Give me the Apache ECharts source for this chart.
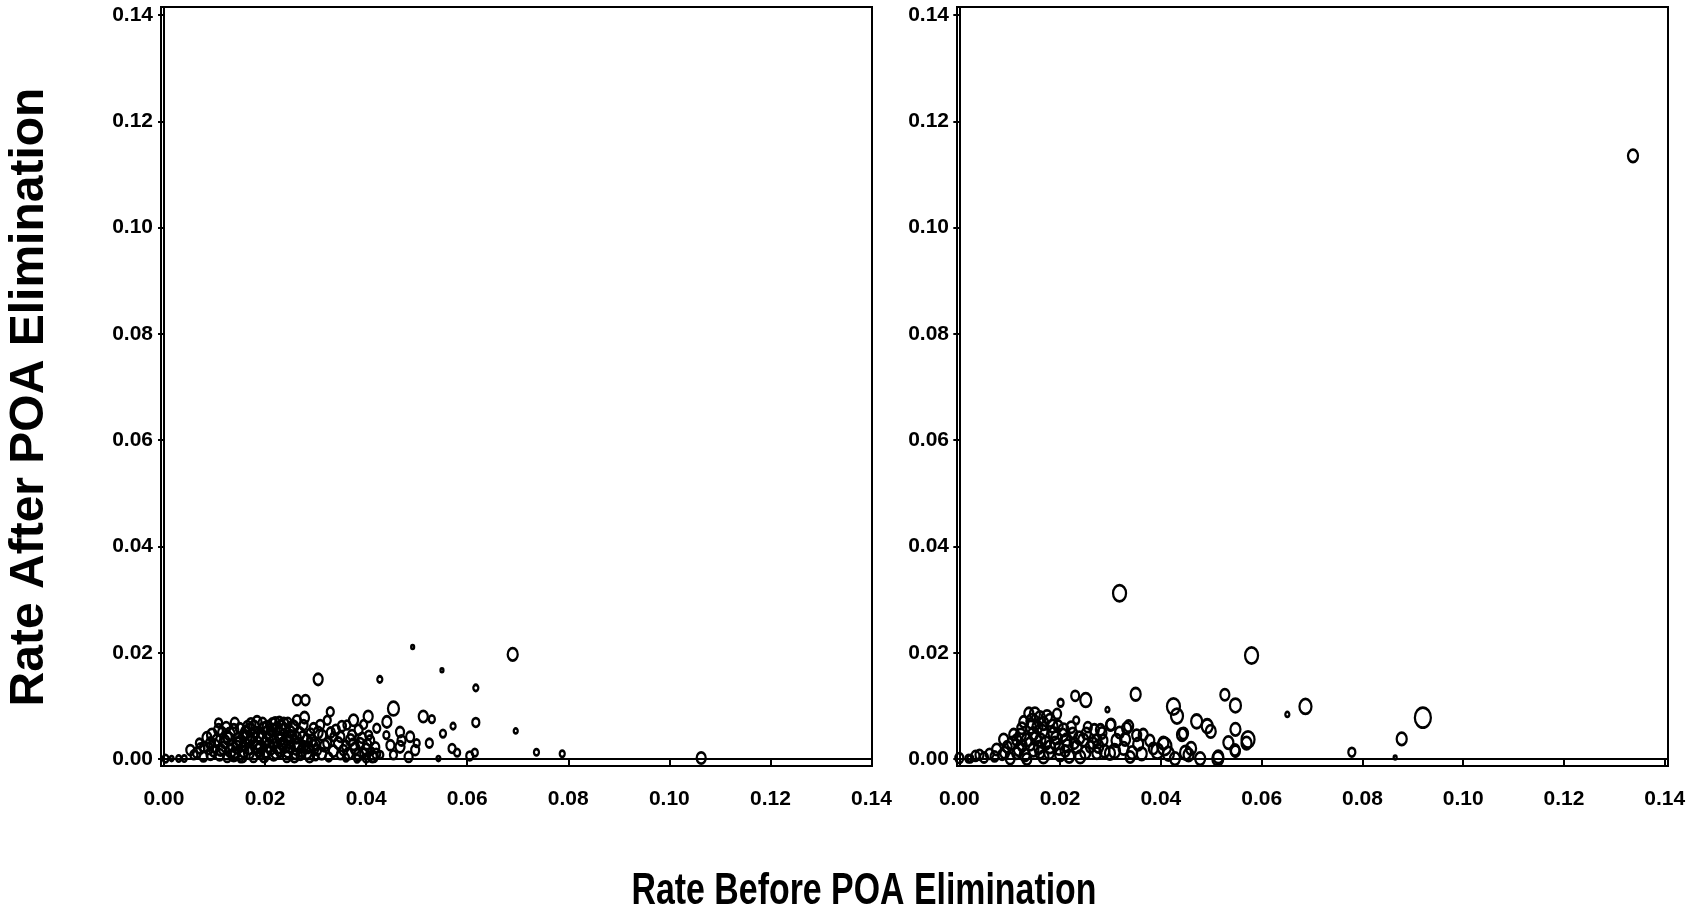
<!DOCTYPE html>
<html>
<head>
<meta charset="utf-8">
<script src="https://cdn.jsdelivr.net/npm/echarts@6/dist/echarts.min.js"></script>
<style>
html,body{margin:0;padding:0;background:#fff;}
#c{width:1692px;height:909px;}
</style>
</head>
<body>
<div id="c"></div>
<script>
// ---- data ----
const xTicks = [0, 0.02, 0.04, 0.06, 0.08, 0.10, 0.12, 0.14];
const yTicks = [0, 0.02, 0.04, 0.06, 0.08, 0.10, 0.12, 0.14];
const xTitle = 'Rate Before POA Elimination';
const yTitle = 'Rate After POA Elimination';

// [rate before, rate after, bubble size]
const leftPoints = [
[0.1063,0.0002,9],[0.0788,0.0010,5],[0.0737,0.0013,5],[0.0690,0.0197,10],[0.0696,0.0053,4],
[0.0617,0.0134,5],[0.0617,0.0069,7],[0.0615,0.0012,6],[0.0605,0.0006,7],[0.0580,0.0012,6],
[0.0492,0.0211,3],[0.0550,0.0167,3],[0.0427,0.0150,5],[0.0305,0.0150,9],[0.0263,0.0111,8],
[0.0280,0.0111,8],[0.0108,0.0068,7],[0.0329,0.0089,7],[0.0278,0.0078,9],[0.0404,0.0080,9],
[0.0454,0.0095,11],[0.0441,0.0070,9],[0.0421,0.0058,7],[0.0513,0.0080,9],[0.0530,0.0075,6],
[0.0572,0.0062,5],[0.0552,0.0048,6],[0.0525,0.0030,7],[0.0570,0.0020,7],[0.0543,0.0001,4],
[0.0467,0.0051,8],[0.0487,0.0042,8],[0.0448,0.0026,8],[0.0467,0.0023,9],[0.0497,0.0017,8],
[0.0454,0.0008,7],[0.0484,0.0004,8],[0.0375,0.0073,9],[0.0362,0.0064,7],[0.0385,0.0055,8],
[0.0349,0.0042,8],[0.0369,0.0036,9],[0.0388,0.0030,8],[0.0355,0.0017,8],[0.0395,0.0011,7],
[0.0415,0.0004,8],[0.0428,0.0008,6],[0.0349,0.0008,7],[0.0382,0.0001,6],[0.0323,0.0073,7],
[0.0296,0.0058,8],[0.0313,0.0045,8],[0.0283,0.0036,9],[0.0323,0.0030,8],[0.0276,0.0023,9],
[0.0303,0.0017,8],[0.0270,0.0008,8],[0.0326,0.0004,7],[0.0257,0.0061,9],[0.0243,0.0042,9],
[0.0336,0.0042,7],[0.0309,0.0064,8],[0.0276,0.0064,8],[0.0263,0.0073,8],
[0.0184,0.0070,9],[0.0220,0.0068,9],[0.0237,0.0067,9],[0.0197,0.0058,9],[0.0158,0.0045,9],
[0.0125,0.0042,9],[0.0092,0.0030,9],[0.0072,0.0020,8],[0.0052,0.0017,8],[0.0029,0.0001,5],
[0.0003,0.0001,6],[0.0015,0.0001,4],[0.0040,0.0001,5],[0.0112,0.0017,9],[0.0145,0.0030,9],
[0.0171,0.0036,9],[0.0210,0.0042,9],[0.0230,0.0036,9],[0.0250,0.0023,9],[0.0191,0.0023,9],
[0.0158,0.0014,9],[0.0125,0.0004,8],[0.0092,0.0008,8],[0.0177,0.0004,8],[0.0217,0.0008,9],
[0.0243,0.0004,8],[0.0138,0.0055,9],[0.0105,0.0036,9],[0.0204,0.0061,9],[0.0224,0.0058,9],
[0.0250,0.0051,9],[0.0079,0.0023,8],[0.0151,0.0000,5],[0.0059,0.0008,7],[0.0165,0.0062,8],
[0.0180,0.0050,9],[0.0200,0.0030,9],[0.0230,0.0015,9],[0.0135,0.0025,9],[0.0115,0.0050,8],
[0.0098,0.0015,8],[0.0170,0.0020,9],[0.0212,0.0020,9],[0.0262,0.0040,9],[0.0290,0.0048,8],
[0.0300,0.0028,8],[0.0340,0.0055,8],[0.0360,0.0025,8],[0.0405,0.0045,7],[0.0395,0.0065,7],
[0.0440,0.0045,6],[0.0470,0.0035,8],[0.0500,0.0030,6],[0.0190,0.0010,8],[0.0140,0.0012,8],
[0.0260,0.0010,8],[0.0300,0.0005,6],[0.0360,0.0003,6],[0.0400,0.0002,7],[0.0410,0.0015,6],
[0.0195,0.0068,8],[0.0150,0.0058,8],
[0.0085,0.0040,9],[0.0100,0.0025,10],[0.0110,0.0008,9],[0.0120,0.0033,10],[0.0130,0.0047,10],
[0.0132,0.0015,10],[0.0145,0.0022,10],[0.0148,0.0038,10],[0.0155,0.0005,9],[0.0160,0.0028,10],
[0.0162,0.0050,10],[0.0168,0.0012,10],[0.0175,0.0043,10],[0.0178,0.0060,10],[0.0185,0.0030,10],
[0.0188,0.0017,10],[0.0193,0.0040,10],[0.0198,0.0005,9],[0.0205,0.0050,10],[0.0208,0.0025,10],
[0.0215,0.0065,10],[0.0218,0.0033,10],[0.0222,0.0012,10],[0.0228,0.0047,10],[0.0235,0.0028,10],
[0.0238,0.0055,10],[0.0245,0.0015,10],[0.0248,0.0033,10],[0.0255,0.0062,9],[0.0258,0.0005,9],
[0.0265,0.0028,10],[0.0268,0.0048,10],[0.0272,0.0015,9],[0.0285,0.0022,9],[0.0288,0.0005,9],
[0.0292,0.0035,9],[0.0305,0.0050,9],[0.0312,0.0010,9],[0.0318,0.0025,9],[0.0330,0.0050,8],
[0.0335,0.0015,9],[0.0345,0.0030,9],[0.0352,0.0062,8],[0.0365,0.0010,9],[0.0372,0.0045,8],
[0.0378,0.0020,9],[0.0392,0.0040,8],[0.0402,0.0028,8],[0.0412,0.0005,9],[0.0420,0.0010,8],
[0.0065,0.0012,8],[0.0078,0.0005,8],[0.0088,0.0020,9],[0.0070,0.0030,7],[0.0108,0.0055,9],
[0.0123,0.0060,8],[0.0140,0.0068,8],[0.0172,0.0066,9],[0.0228,0.0070,8],[0.0245,0.0068,8],
[0.0095,0.0045,10],[0.0118,0.0020,10],[0.0128,0.0038,10],[0.0138,0.0008,10],[0.0152,0.0033,10],
[0.0163,0.0040,10],[0.0170,0.0055,10],[0.0182,0.0022,10],[0.0187,0.0045,10],[0.0202,0.0015,10],
[0.0205,0.0038,10],[0.0213,0.0055,10],[0.0225,0.0022,10],[0.0232,0.0060,10],[0.0240,0.0025,10],
[0.0252,0.0042,10],[0.0262,0.0020,10],[0.0275,0.0040,10],[0.0282,0.0012,10],[0.0295,0.0025,9],
[0.0385,0.0008,9],[0.0400,0.0018,9],[0.0408,0.0035,8],[0.0375,0.0028,9],[0.0418,0.0022,8]
];

const rightPoints = [
[0.1337,0.1135,10],[0.0318,0.0312,13],[0.0580,0.0195,13],[0.0687,0.0099,12],[0.0920,0.0078,16],
[0.0878,0.0038,10],[0.0779,0.0013,7],[0.0865,0.0003,3],[0.0651,0.0084,4],[0.0350,0.0122,10],
[0.0527,0.0121,9],[0.0548,0.0101,11],[0.0425,0.0099,13],[0.0432,0.0081,12],[0.0471,0.0071,11],
[0.0492,0.0062,11],[0.0499,0.0052,10],[0.0442,0.0046,10],[0.0548,0.0056,10],[0.0573,0.0037,13],
[0.0534,0.0031,10],[0.0548,0.0015,9],[0.0513,0.0001,11],[0.0478,0.0001,10],[0.0449,0.0012,11],
[0.0407,0.0024,14],[0.0393,0.0015,12],[0.0428,0.0001,10],[0.0336,0.0062,9],[0.0365,0.0046,9],
[0.0329,0.0037,10],[0.0343,0.0012,10],[0.0308,0.0015,11],[0.0301,0.0065,9],[0.0294,0.0093,4],
[0.0283,0.0049,9],[0.0276,0.0024,10],[0.0251,0.0111,11],[0.0230,0.0119,8],[0.0201,0.0106,6],
[0.0232,0.0073,6],[0.0194,0.0085,8],[0.0138,0.0086,9],[0.0145,0.0071,12],[0.0124,0.0058,9],
[0.0088,0.0037,9],[0.0074,0.0018,9],[0.0049,0.0003,8],[0.0032,0.0006,8],[0.0000,0.0002,8],
[0.0018,0.0001,6],[0.0022,0.0001,6],[0.0300,0.0064,9],[0.0280,0.0055,9],[0.0332,0.0058,9],
[0.0352,0.0045,9],[0.0326,0.0020,10],[0.0299,0.0011,10],[0.0339,0.0004,9],[0.0385,0.0020,9],
[0.0405,0.0030,10],[0.0445,0.0048,9],[0.0455,0.0008,10],[0.0514,0.0004,10],[0.0547,0.0017,9],
[0.0570,0.0030,10],
[0.0114,0.0036,9],[0.0147,0.0048,10],[0.0167,0.0067,10],[0.0180,0.0073,10],[0.0161,0.0036,10],
[0.0187,0.0048,10],[0.0207,0.0055,10],[0.0213,0.0036,10],[0.0180,0.0023,10],[0.0147,0.0017,10],
[0.0114,0.0011,9],[0.0095,0.0023,9],[0.0167,0.0004,10],[0.0200,0.0008,10],[0.0233,0.0023,10],
[0.0246,0.0036,10],[0.0260,0.0023,9],[0.0273,0.0036,9],[0.0273,0.0011,9],[0.0240,0.0004,10],
[0.0134,0.0036,10],[0.0174,0.0080,10],[0.0134,0.0000,9],[0.0101,0.0001,9],[0.0155,0.0060,10],
[0.0190,0.0030,10],[0.0225,0.0048,9],[0.0125,0.0025,9],[0.0160,0.0012,9],[0.0210,0.0015,9],
[0.0060,0.0010,8],[0.0085,0.0008,8],[0.0255,0.0060,8],[0.0196,0.0062,9],[0.0108,0.0046,9],
[0.0228,0.0030,9],
[0.0090,0.0012,9],[0.0105,0.0030,10],[0.0118,0.0018,10],[0.0122,0.0045,10],[0.0130,0.0008,10],
[0.0140,0.0028,10],[0.0142,0.0060,10],[0.0152,0.0040,10],[0.0158,0.0022,10],[0.0165,0.0052,10],
[0.0172,0.0030,10],[0.0178,0.0012,10],[0.0185,0.0062,10],[0.0192,0.0040,10],[0.0198,0.0020,10],
[0.0205,0.0045,10],[0.0215,0.0025,10],[0.0218,0.0005,10],[0.0222,0.0060,9],[0.0238,0.0040,10],
[0.0250,0.0012,10],[0.0252,0.0048,9],[0.0265,0.0030,9],[0.0268,0.0055,9],[0.0285,0.0035,9],
[0.0288,0.0015,10],[0.0312,0.0035,10],[0.0318,0.0050,9],[0.0355,0.0028,10],[0.0362,0.0010,10],
[0.0378,0.0035,9],[0.0415,0.0010,11],[0.0460,0.0020,10],[0.0070,0.0005,8],[0.0040,0.0008,8],
[0.0160,0.0078,10],[0.0128,0.0070,9],[0.0150,0.0085,10]
];

// ---- chart ----
const chart = echarts.init(document.getElementById('c'), null, {renderer:'canvas'});
const FONT = 'Liberation Sans, Arial, sans-serif';
const fmt = v => v.toFixed(2);

function xAxisDef(idx, min, max){
  return {
    gridIndex: idx, type:'value', min:min, max:max,
    axisLine:{show:true, lineStyle:{color:'#000', width:2}},
    splitLine:{show:false},
    axisTick:{show:true, customValues:xTicks, length:6, inside:false, lineStyle:{color:'#000', width:2}},
    axisLabel:{show:true, customValues:xTicks, formatter:fmt, margin:23,
      color:'#000', fontFamily:FONT, fontWeight:'bold', fontSize:21}
  };
}
function yAxisDef(idx, min, max){
  return {
    gridIndex: idx, type:'value', min:min, max:max,
    axisLine:{show:true, lineStyle:{color:'#000', width:2}},
    splitLine:{show:false},
    axisTick:{show:true, customValues:yTicks, length:6, inside:false, lineStyle:{color:'#000', width:2}},
    axisLabel:{show:true, customValues:yTicks, formatter:fmt, margin:8,
      color:'#000', fontFamily:FONT, fontWeight:'bold', fontSize:21}
  };
}
function scatterDef(idx, pts){
  return {
    type:'scatter', xAxisIndex:idx, yAxisIndex:idx, data:pts,
    symbol:'circle',
    symbolSize: v => [v[2], v[2]*1.25],
    itemStyle:{color:'rgba(0,0,0,0)', borderColor:'#000', borderWidth:2.5, opacity:1},
    emphasis:{disabled:true},
    silent:true
  };
}

chart.setOption({
  animation:false,
  backgroundColor:'#fff',
  grid:[
    {left:161, right:820, top:7, bottom:143, show:true, borderColor:'#000', borderWidth:2, backgroundColor:'transparent', containLabel:false},
    {left:957, right:24, top:7, bottom:143, show:true, borderColor:'#000', borderWidth:2, backgroundColor:'transparent', containLabel:false}
  ],
  xAxis:[ xAxisDef(0, -0.0006, 0.1401), xAxisDef(1, -0.00046, 0.14065) ],
  yAxis:[ yAxisDef(0, -0.0013, 0.1415), yAxisDef(1, -0.0013, 0.1415) ],
  series:[ scatterDef(0, leftPoints), scatterDef(1, rightPoints) ],
  graphic:[
    {type:'text', x:864, y:892, scaleX:0.77, scaleY:1, originX:0, originY:0,
      style:{text:xTitle, fill:'#000', font:'bold 44px ' + FONT, textAlign:'center', textVerticalAlign:'middle'}},
    {type:'text', x:30, y:397, rotation:Math.PI/2,
      style:{text:yTitle, fill:'#000', font:'bold 48px ' + FONT, textAlign:'center', textVerticalAlign:'middle'}}
  ]
});
</script>
</body>
</html>
